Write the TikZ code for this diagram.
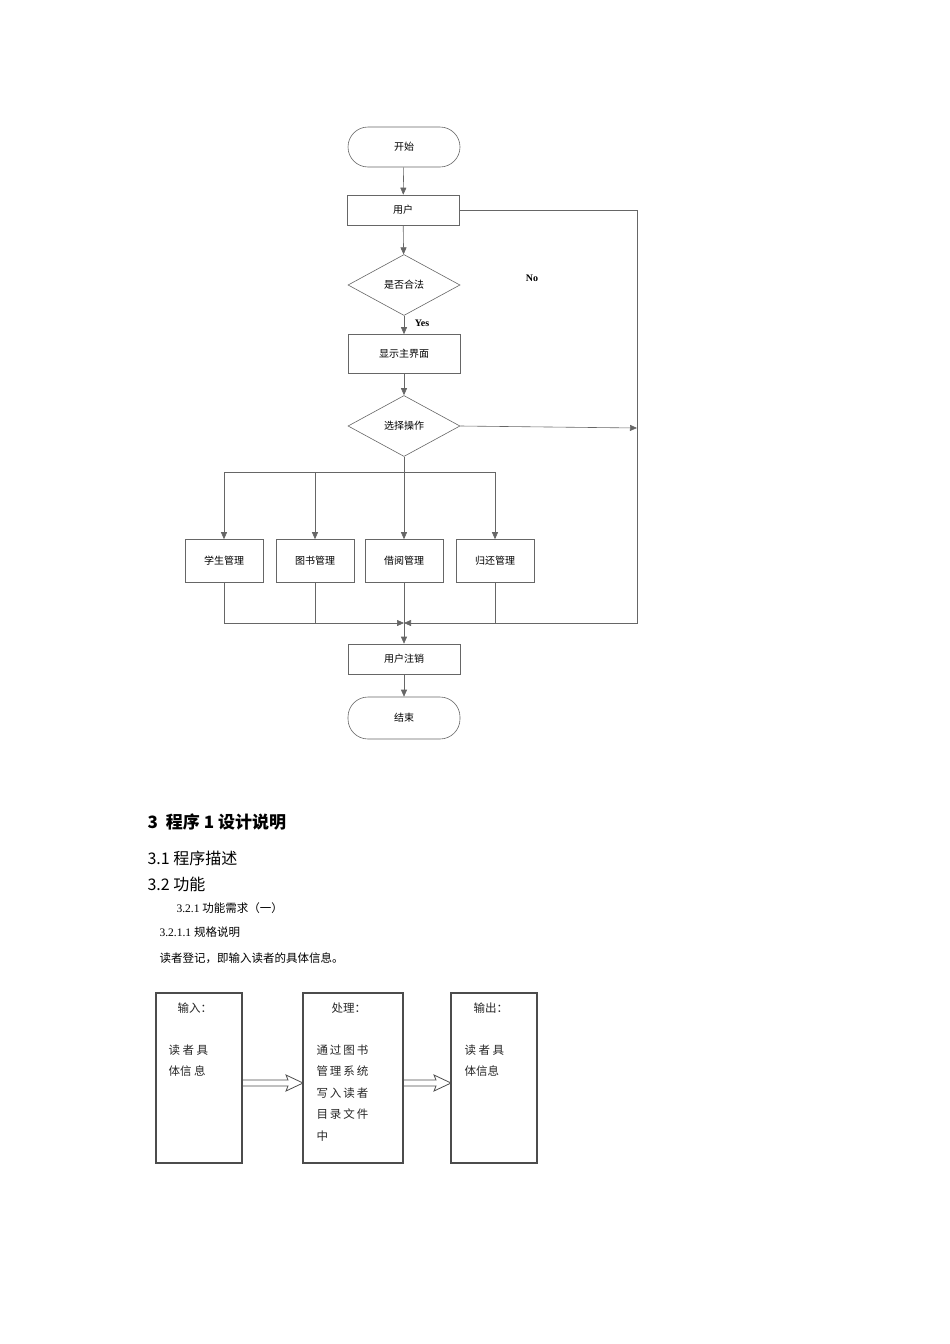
\documentclass[tikz,border=0pt]{standalone}
\usepackage{fontspec}
\setmainfont{Liberation Serif}
\newfontfamily\cjk{Noto Sans CJK SC}
\usetikzlibrary{shapes.geometric,arrows.meta}
\begin{document}
\begin{tikzpicture}[x=1pt,y=-1pt,
  box/.style={draw=black!60,line width=0.6pt,minimum width=112pt,minimum height=30pt,inner sep=0pt,font=\cjk\fontsize{10}{12}\selectfont},
  term/.style={box,rounded corners=20pt,minimum height=40pt},
  dia/.style={draw=black!60,line width=0.6pt,diamond,aspect=1.9,minimum width=112pt,minimum height=61pt,inner sep=0pt,font=\cjk\fontsize{10}{12}\selectfont},
  mbox/.style={box,minimum width=78pt,minimum height=43pt},
  ln/.style={draw=black!60,line width=0.6pt},
  ar/.style={ln,-{Triangle[length=7pt,width=6pt]}},
  pbox/.style={draw=black!70,line width=1.2pt,anchor=north west,inner sep=0pt},
  ptxt/.style={anchor=north west,font=\cjk\fontsize{11.5}{21.5}\selectfont,align=left,text=black!85}
]
\useasboundingbox (0,0) rectangle (950,1344);
\node[term] (start) at (404,147) {开始};
\node[box] (user) at (403,210) {用户};
\node[dia] (legal) at (404,285) {是否合法};
\node[box,minimum height=39pt] (main) at (404,354) {显示主界面};
\node[dia] (sel) at (404,426) {选择操作};
\node[mbox] (s1) at (224,561) {学生管理};
\node[mbox] (s2) at (315,561) {图书管理};
\node[mbox] (s3) at (404,561) {借阅管理};
\node[mbox] (s4) at (495,561) {归还管理};
\node[box] (logout) at (404,659) {用户注销};
\node[term,minimum height=42pt] (end) at (404,718) {结束};
\node[font=\bfseries\fontsize{10}{12}\selectfont] (yes) at (422,323) {Yes};
\node[font=\bfseries\fontsize{10}{12}\selectfont] (no) at (532,278) {No};
\coordinate (br) at (404,472);
\coordinate (mg) at (404,623);
\coordinate (rt) at (637,210);
\coordinate (rb) at (637,623);
\coordinate (rm) at (637,428);
\draw[ar] (start) -- (user);
\draw[ar] (user) -- (legal);
\draw[ar] (legal) -- (main);
\draw[ar] (main) -- (sel);
\draw[ln] (sel.south) -- (br);
\draw[ar] (br) -| (s1.north);
\draw[ar] (br) -| (s2.north);
\draw[ar] (br) -- (s3.north);
\draw[ar] (br) -| (s4.north);
\draw[ln] (s1.south) |- (398,623);
\draw[ar] (224,623) -- (mg);
\draw[ln] (s2.south) -- (315,623);
\draw[ln] (s3.south) -- (mg);
\draw[ln] (s4.south) -- (495,623);
\draw[ln] (user.east) -- (rt) -- (rb) -- (410,623);
\draw[ar] (rb) -- (mg);
\draw[ar] (mg) -- (logout);
\draw[ar] (sel.east) -- (rm);
\draw[ar] (logout) -- (end);
% text section
\node[anchor=west,font=\cjk\bfseries\fontsize{17}{20}\selectfont] (h3) at (144,822) {3\hspace{8pt}程序 1 设计说明};
\node[anchor=west,font=\cjk\fontsize{16}{19}\selectfont] (h31) at (144,858) {3.1 程序描述};
\node[anchor=west,font=\cjk\fontsize{16}{19}\selectfont] (h32) at (144,884) {3.2 功能};
\node[anchor=west,font=\fontsize{11.5}{14}\selectfont] (h321) at (173,908) {3.2.1 {\cjk 功能需求（一）}};
\node[anchor=west,font=\fontsize{11.5}{14}\selectfont] (h3211) at (156,932) {3.2.1.1 {\cjk 规格说明}};
\node[anchor=west,font=\cjk\fontsize{11.5}{14}\selectfont] (p) at (156,958) {读者登记，即输入读者的具体信息。};
\draw[pbox] (156,993) rectangle (242,1163);
\draw[pbox] (303,993) rectangle (403,1163);
\draw[pbox] (451,993) rectangle (537,1163);
\node[ptxt] (t1) at (174,999) {输入：};
\node[ptxt] (t1b) at (165,1041) {读\ 者\ 具\\体信\ 息};
\node[ptxt] (t2) at (328,999) {处理：};
\node[ptxt] (t2b) at (313,1041) {通\,过\,图\,书\\管\,理\,系\,统\\写\,入\,读\,者\\目\,录\,文\,件\\中};
\node[ptxt] (t3) at (470,999) {输出：};
\node[ptxt] (t3b) at (461,1041) {读\ 者\ 具\\体信息};
\draw[black!70,line width=0.8pt] (243,1080) -- (288,1080) -- (286,1075) -- (303,1083) -- (286,1091) -- (288,1086) -- (243,1086);
\draw[black!70,line width=0.8pt] (404,1080) -- (436,1080) -- (434,1075) -- (451,1083) -- (434,1091) -- (436,1086) -- (404,1086);
\end{tikzpicture}
\end{document}
